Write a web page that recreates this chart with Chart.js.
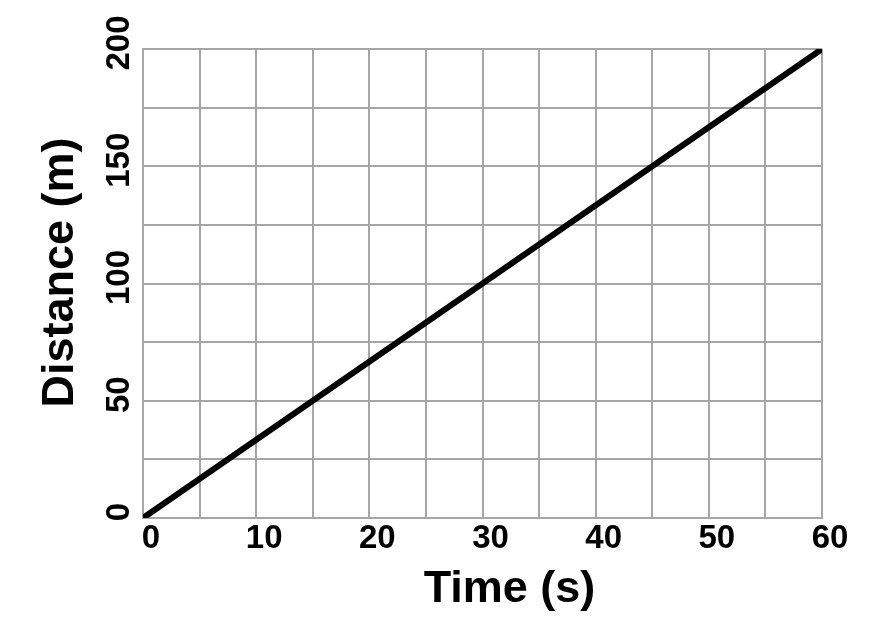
<!DOCTYPE html>
<html>
<head>
<meta charset="utf-8">
<script src="https://cdn.jsdelivr.net/npm/chart.js@4/dist/chart.umd.min.js"></script>
<style>
  html, body { margin: 0; padding: 0; background: #ffffff; }
  #wrap { width: 882px; height: 630px; }
</style>
</head>
<body>
<div id="wrap"><canvas id="c" width="882" height="630"></canvas></div>
<script>
const times = [0, 30, 60];
const distances = [0, 100, 200];
const xTickLabels = [0, 10, 20, 30, 40, 50, 60];
const yTickLabels = [0, 50, 100, 150, 200];
const xTitle = 'Time (s)';
const yTitle = 'Distance (m)';

const FONT = '"Liberation Sans", Arial, sans-serif';
const GRID = '#a6a6a6';

const textPlugin = {
  id: 'axisText',
  afterDraw(chart) {
    const xs = chart.scales.x, ys = chart.scales.y;
    const ctx = chart.ctx;
    ctx.save();
    ctx.fillStyle = '#000';
    ctx.textAlign = 'center';
    ctx.textBaseline = 'alphabetic';
    // x tick labels
    ctx.font = 'bold 33px ' + FONT;
    xTickLabels.forEach(v => {
      ctx.fillText(String(v), xs.getPixelForValue(v) + 8, 548);
    });
    // y tick labels (rotated)
    yTickLabels.forEach(v => {
      ctx.save();
      ctx.translate(129, ys.getPixelForValue(v) - 6);
      ctx.rotate(-Math.PI / 2);
      ctx.fillText(String(v), 0, 0);
      ctx.restore();
    });
    // titles
    ctx.font = 'bold 45px ' + FONT;
    ctx.fillText(xTitle, (xs.left + xs.right) / 2 + 27, 602);
    ctx.save();
    ctx.translate(73, (ys.top + ys.bottom) / 2 - 11);
    ctx.rotate(-Math.PI / 2);
    ctx.fillText(yTitle, 0, 0);
    ctx.restore();
    ctx.restore();
  }
};

new Chart(document.getElementById('c'), {
  type: 'line',
  data: {
    datasets: [{
      data: times.map((t, i) => ({ x: t, y: distances[i] })),
      borderColor: '#000',
      borderWidth: 6,
      pointRadius: 0,
      fill: false,
      tension: 0
    }]
  },
  options: {
    responsive: false,
    animation: false,
    devicePixelRatio: 1,
    layout: { padding: { left: 0, right: 60, top: 49, bottom: 0 } },
    plugins: { legend: { display: false }, tooltip: { enabled: false } },
    scales: {
      x: {
        type: 'linear',
        min: 0, max: 60,
        grid: { color: GRID, lineWidth: 2, drawTicks: false },
        border: { color: GRID, width: 2 },
        ticks: { stepSize: 5, display: false },
        afterFit(scale) { scale.height = 112; }
      },
      y: {
        type: 'linear',
        min: 0, max: 200,
        grid: { color: GRID, lineWidth: 2, drawTicks: false },
        border: { color: GRID, width: 2 },
        ticks: { stepSize: 25, display: false },
        afterFit(scale) { scale.width = 143; }
      }
    }
  },
  plugins: [textPlugin]
});
</script>
</body>
</html>
